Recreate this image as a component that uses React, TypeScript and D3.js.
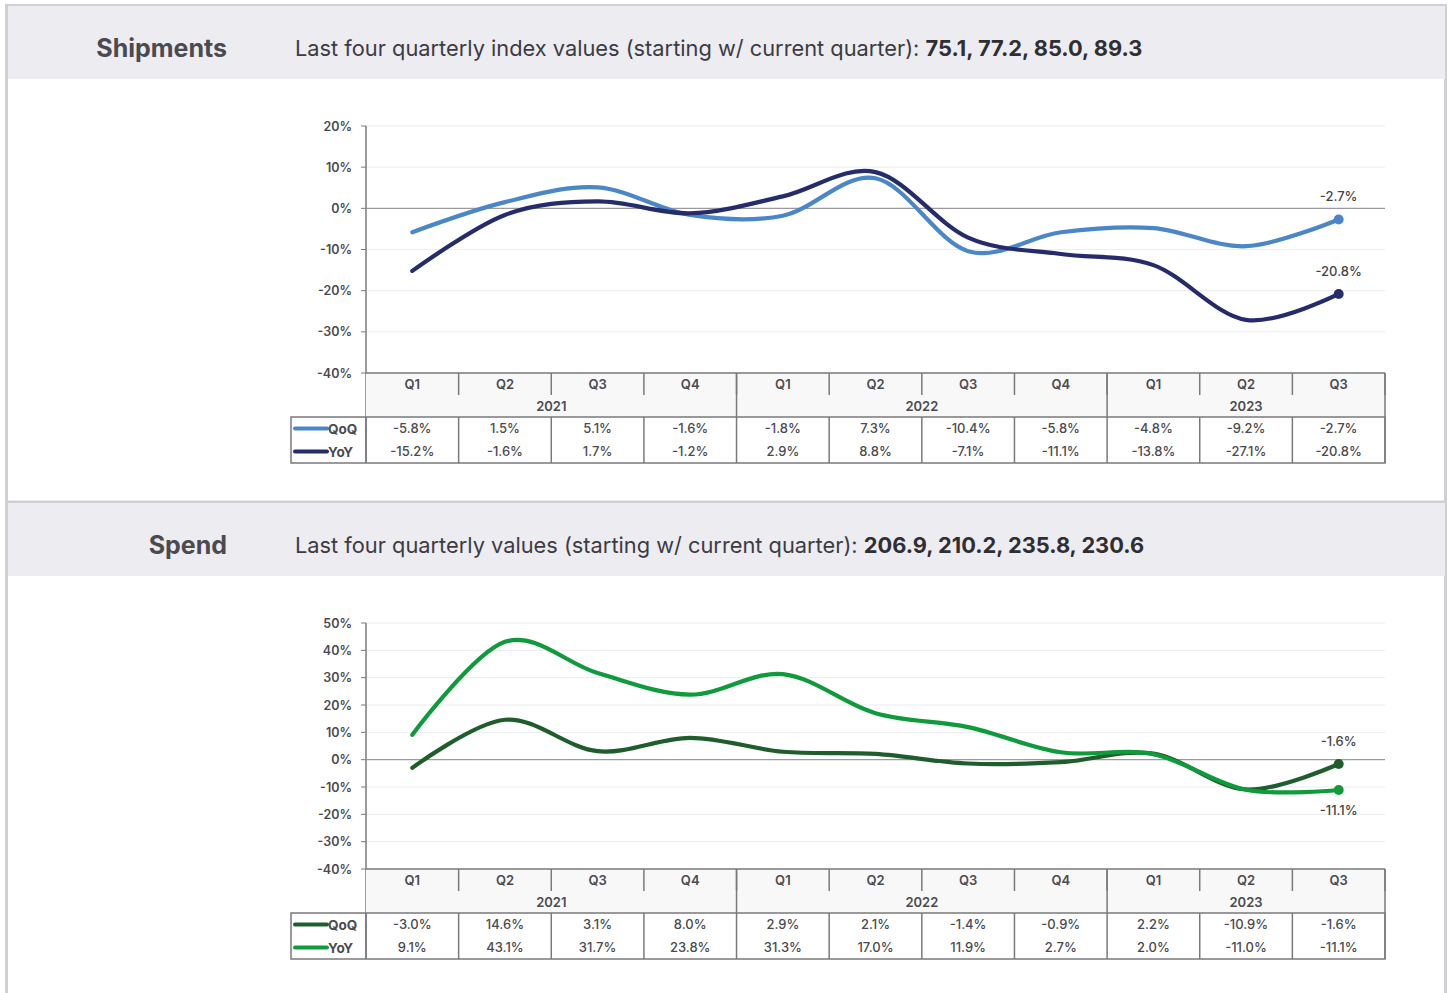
import * as d3 from 'd3';
import React from 'react';

// quarters along the x axis
const quarters = ['Q1', 'Q2', 'Q3', 'Q4', 'Q1', 'Q2', 'Q3', 'Q4', 'Q1', 'Q2', 'Q3'];
const yearLabels = ['2021', '2022', '2023'];
const yearSpans = [4, 4, 3];

// Shipments
const shipQoQ = [-5.8, 1.5, 5.1, -1.6, -1.8, 7.3, -10.4, -5.8, -4.8, -9.2, -2.7];
const shipYoY = [-15.2, -1.6, 1.7, -1.2, 2.9, 8.8, -7.1, -11.1, -13.8, -27.1, -20.8];
const shipTicks = [20, 10, 0, -10, -20, -30, -40];
const shipIndex = ['75.1', '77.2', '85.0', '89.3'];

// Spend
const spendQoQ = [-3.0, 14.6, 3.1, 8.0, 2.9, 2.1, -1.4, -0.9, 2.2, -10.9, -1.6];
const spendYoY = [9.1, 43.1, 31.7, 23.8, 31.3, 17.0, 11.9, 2.7, 2.0, -11.0, -11.1];
const spendTicks = [50, 40, 30, 20, 10, 0, -10, -20, -30, -40];
const spendValues = ['206.9', '210.2', '235.8', '230.6'];

const FONT = 'Inter, "Noto Sans", sans-serif';
const TXT = '#4a4a50';
const GRID = '#ececf1';
const RULE = '#7a7a7e';

interface Series {
  name: string;
  values: number[];
  color: string;
  labelBelow: boolean;
}

interface PanelProps {
  bandTop: number;
  title: string;
  subtitle: string;
  figures: string[];
  series: Series[];
  ticks: number[];
  plotTop: number;
  plotBottom: number;
}

const plotLeft = 366;
const plotRight = 1385;
const legendLeft = 291;

const Panel = ({ bandTop, title, subtitle, figures, series, ticks, plotTop, plotBottom }: PanelProps) => {
  const x = d3.scaleBand<number>().domain(d3.range(quarters.length)).range([plotLeft, plotRight]);
  const y = d3
    .scaleLinear()
    .domain([d3.min(ticks) as number, d3.max(ticks) as number])
    .range([plotBottom, plotTop]);
  const cx = (i: number) => (x(i) as number) + x.bandwidth() / 2;
  const line = d3
    .line<number>()
    .x((_, i) => cx(i))
    .y((d) => y(d))
    .curve(d3.curveCatmullRom.alpha(0));

  const catTop = plotBottom;
  const qRow = catTop + 22;
  const tableTop = catTop + 44;
  const tableBottom = tableTop + 46;
  const last = quarters.length - 1;

  let acc = 0;
  const years = yearLabels.map((label, k) => {
    const start = acc;
    acc += yearSpans[k];
    return { label, start, end: acc };
  });

  return (
    <g>
      <rect x={8} y={bandTop} width={1437} height={73} fill="#edecf1" />
      <text
        x={227}
        y={bandTop + 51}
        textAnchor="end"
        fontSize={25}
        fontWeight={700}
        fill={TXT}
        fontFamily={FONT}
      >
        {title}
      </text>
      <text x={295} y={bandTop + 50} fontSize={21.8} fill="#3c3b42" fontFamily={FONT}>
        {subtitle}
        <tspan fontWeight={700} fill="#2f2e33">
          {figures.join(', ')}
        </tspan>
      </text>

      {/* grid */}
      {ticks.map((t) => (
        <g key={t}>
          {t !== 0 && (
            <line x1={plotLeft} x2={plotRight} y1={y(t)} y2={y(t)} stroke={GRID} strokeWidth={1} />
          )}
          <line x1={plotLeft - 5} x2={plotLeft} y1={y(t)} y2={y(t)} stroke={RULE} strokeWidth={1} />
          <text
            x={352}
            y={y(t) + 4.5}
            textAnchor="end"
            fontSize={12.5}
            fontWeight={600}
            fill={TXT}
            fontFamily={FONT}
          >
            {`${t}%`}
          </text>
        </g>
      ))}
      <line x1={plotLeft} x2={plotLeft} y1={plotTop} y2={tableBottom} stroke={RULE} strokeWidth={1.5} />
      <line x1={plotLeft} x2={plotRight} y1={y(0)} y2={y(0)} stroke="#9a9a9e" strokeWidth={1.3} />

      {/* category table */}
      <rect x={plotLeft} y={catTop} width={plotRight - plotLeft} height={tableTop - catTop} fill="#f8f8f8" />
      <line x1={plotLeft} x2={plotRight} y1={catTop} y2={catTop} stroke={RULE} strokeWidth={1.5} />
      {quarters.map((q, i) => (
        <g key={i}>
          <line
            x1={(x(i) as number) + x.bandwidth()}
            x2={(x(i) as number) + x.bandwidth()}
            y1={catTop}
            y2={qRow}
            stroke={RULE}
            strokeWidth={1.5}
          />
          <text
            x={cx(i)}
            y={catTop + 16}
            textAnchor="middle"
            fontSize={13}
            fontWeight={600}
            fill={TXT}
            fontFamily={FONT}
          >
            {q}
          </text>
        </g>
      ))}
      {years.map((yr) => {
        const x0 = x(yr.start) as number;
        const x1 = (x(yr.end - 1) as number) + x.bandwidth();
        return (
          <g key={yr.label}>
            <line x1={x1} x2={x1} y1={catTop} y2={tableTop} stroke={RULE} strokeWidth={1.5} />
            <text
              x={(x0 + x1) / 2}
              y={qRow + 16}
              textAnchor="middle"
              fontSize={13}
              fontWeight={600}
              fill={TXT}
              fontFamily={FONT}
            >
              {yr.label}
            </text>
          </g>
        );
      })}

      {/* data table */}
      <rect
        x={legendLeft}
        y={tableTop}
        width={plotRight - legendLeft}
        height={tableBottom - tableTop}
        fill="none"
        stroke={RULE}
        strokeWidth={1.5}
      />
      <line x1={plotLeft} x2={plotLeft} y1={tableTop} y2={tableBottom} stroke={RULE} strokeWidth={1.5} />
      {quarters.map((_, i) => (
        <line
          key={i}
          x1={(x(i) as number) + x.bandwidth()}
          x2={(x(i) as number) + x.bandwidth()}
          y1={tableTop}
          y2={tableBottom}
          stroke={RULE}
          strokeWidth={1.5}
        />
      ))}
      {series.map((s, r) => {
        const rowY = tableTop + 11.5 + r * 23;
        return (
          <g key={s.name}>
            <line
              x1={legendLeft + 4}
              x2={legendLeft + 36}
              y1={rowY}
              y2={rowY}
              stroke={s.color}
              strokeWidth={4}
              strokeLinecap="round"
            />
            <text
              x={legendLeft + 37}
              y={rowY + 5}
              fontSize={13.5}
              fontWeight={700}
              fill={TXT}
              fontFamily={FONT}
            >
              {s.name}
            </text>
            {s.values.map((v, i) => (
              <text
                key={i}
                x={cx(i)}
                y={rowY + 4.5}
                textAnchor="middle"
                fontSize={13}
                fontWeight={500}
                fill={TXT}
                fontFamily={FONT}
              >
                {`${v.toFixed(1)}%`}
              </text>
            ))}
          </g>
        );
      })}

      {/* lines */}
      {series.map((s) => (
        <g key={s.name}>
          <path d={line(s.values) as string} fill="none" stroke={s.color} strokeWidth={4.2} strokeLinecap="round" />
          <circle cx={cx(last)} cy={y(s.values[last])} r={5} fill={s.color} />
          <text
            x={cx(last)}
            y={s.labelBelow ? y(s.values[last]) + 25 : y(s.values[last]) - 18}
            textAnchor="middle"
            fontSize={13}
            fontWeight={500}
            fill="#444448"
            fontFamily={FONT}
          >
            {`${s.values[last].toFixed(1)}%`}
          </text>
        </g>
      ))}
    </g>
  );
};

const App = () => (
  <svg
    width={1448}
    height={993}
    style={{ position: 'absolute', left: 0, top: 0, background: '#fff' }}
  >
    <rect x={6.5} y={5.5} width={1439} height={1000} fill="#fff" stroke="#d0cfd6" strokeWidth={3} />
    <Panel
      bandTop={6}
      title="Shipments"
      subtitle="Last four quarterly index values (starting w/ current quarter): "
      figures={shipIndex}
      series={[
        { name: 'QoQ', values: shipQoQ, color: '#4a86c8', labelBelow: false },
        { name: 'YoY', values: shipYoY, color: '#262b6c', labelBelow: false },
      ]}
      ticks={shipTicks}
      plotTop={126}
      plotBottom={373}
    />
    <rect x={8} y={500.5} width={1437} height={2.5} fill="#d0cfd6" />
    <Panel
      bandTop={503}
      title="Spend"
      subtitle="Last four quarterly values (starting w/ current quarter): "
      figures={spendValues}
      series={[
        { name: 'QoQ', values: spendQoQ, color: '#1f5e2c', labelBelow: false },
        { name: 'YoY', values: spendYoY, color: '#0f9a3c', labelBelow: true },
      ]}
      ticks={spendTicks}
      plotTop={623}
      plotBottom={869}
    />
  </svg>
);

export default App;
